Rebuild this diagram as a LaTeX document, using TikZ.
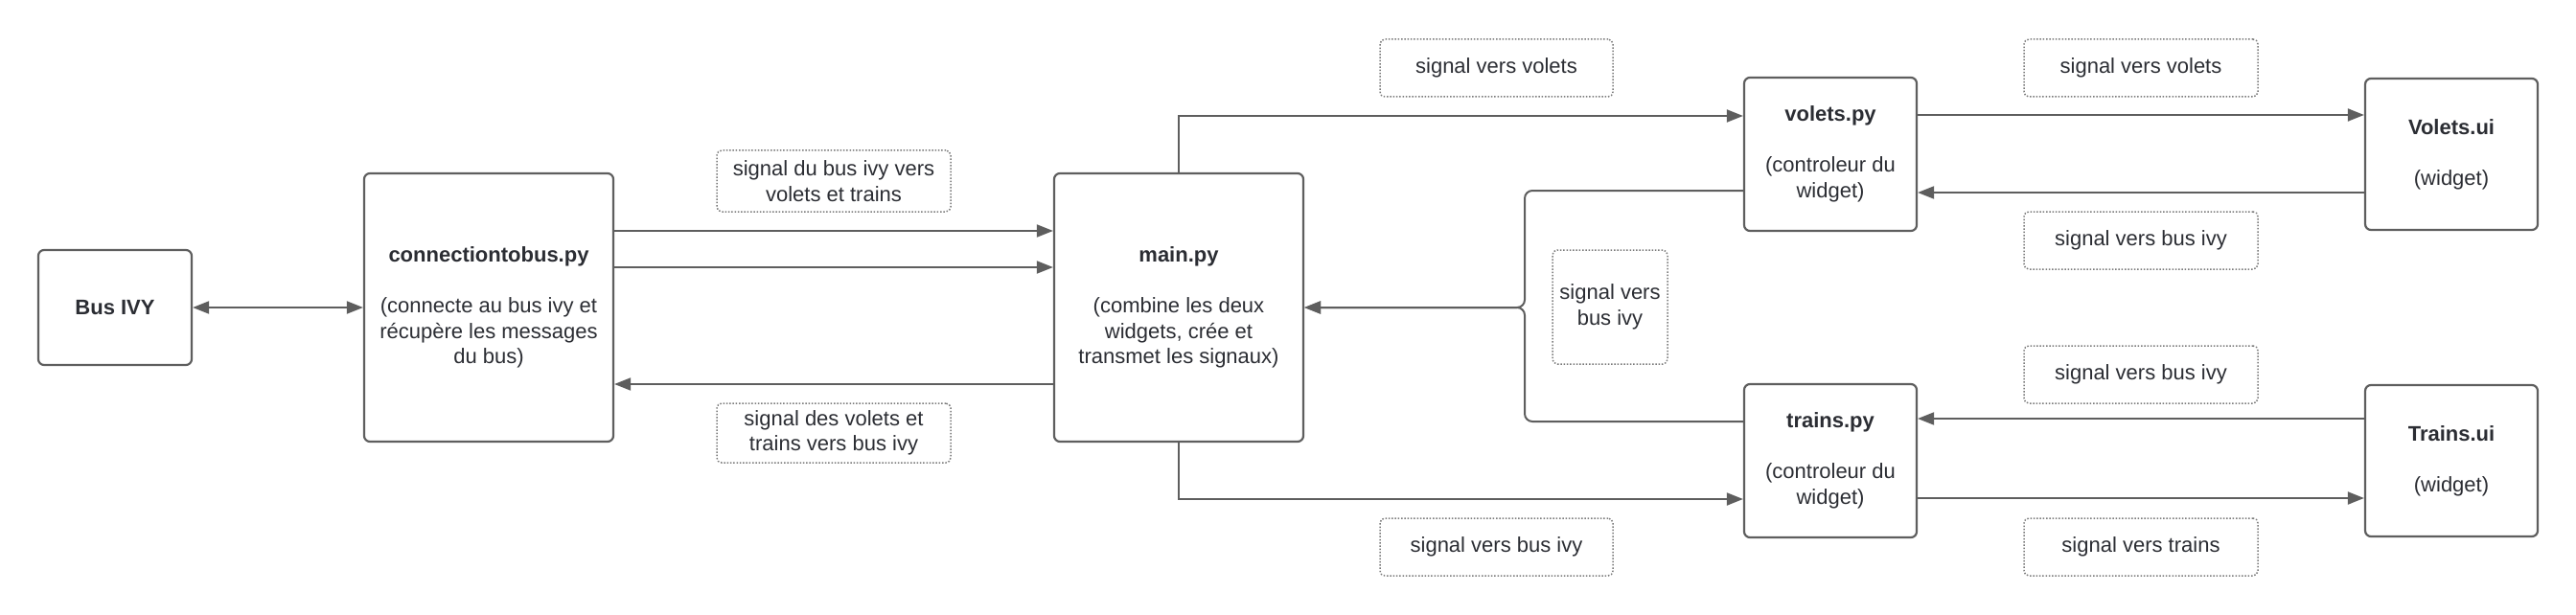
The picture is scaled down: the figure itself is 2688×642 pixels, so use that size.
\documentclass[tikz,border=0pt]{standalone}
\usepackage{fontspec}
\setmainfont{Liberation Sans}
\usetikzlibrary{arrows.meta}
\definecolor{txt}{HTML}{2B2D33}
\definecolor{ln}{HTML}{5E5E5E}
\definecolor{dot}{HTML}{7A7A7A}
\tikzset{
  box/.style={draw=ln, line width=1.1pt, rounded corners=3pt, inner sep=0pt, align=center, text=txt,
    font=\fontsize{11}{13.25}\selectfont},
  lbl/.style={draw=dot, line width=0.75pt, dash pattern=on 0.75pt off 0.9pt, rounded corners=2.5pt, inner sep=0pt,
    align=center, text=txt, font=\fontsize{11}{13.25}\selectfont},
  tip/.style={},
  conn/.style={draw=ln, line width=1pt, -{Triangle[length=8.5pt,width=6.5pt]}},
  bconn/.style={draw=ln, line width=1pt, {Triangle[length=8.5pt,width=6.5pt]}-{Triangle[length=8.5pt,width=6.5pt]}}
}
\begin{document}
\begin{tikzpicture}[x=0.5pt,y=-0.5pt]
\useasboundingbox (0,0) rectangle (2688,642);
% main boxes
\node[box, minimum width=80pt, minimum height=60pt] (bus) at (120,321) {\textbf{Bus IVY}};
\node[box, minimum width=130pt, minimum height=140pt] (ctb) at (510,321)
  {\textbf{connectiontobus.py}\\[13.25pt](connecte au bus ivy et\\récupère les messages\\du bus)};
\node[box, minimum width=130pt, minimum height=140pt] (mainpy) at (1230,321)
  {\textbf{main.py}\\[13.25pt](combine les deux\\widgets, crée et\\transmet les signaux)};
\node[box, minimum width=90pt, minimum height=80pt] (vpy) at (1910,161)
  {\textbf{volets.py}\\[13.25pt](controleur du\\widget)};
\node[box, minimum width=90pt, minimum height=80pt] (tpy) at (1910,481)
  {\textbf{trains.py}\\[13.25pt](controleur du\\widget)};
\node[box, minimum width=90pt, minimum height=79pt] (vui) at (2558,161)
  {\textbf{Volets.ui}\\[13.25pt](widget)};
\node[box, minimum width=90pt, minimum height=79pt] (tui) at (2558,481)
  {\textbf{Trains.ui}\\[13.25pt](widget)};
% labels
\node[lbl, minimum width=122pt, minimum height=32pt] (l1) at (870,189) {signal du bus ivy vers\\volets et trains};
\node[lbl, minimum width=122pt, minimum height=31pt] (l2) at (870,452) {signal des volets et\\trains vers bus ivy};
\node[lbl, minimum width=121.5pt, minimum height=30pt] (l3) at (1561.5,71) {signal vers volets};
\node[lbl, minimum width=121.5pt, minimum height=30pt] (l4) at (1561.5,571) {signal vers bus ivy};
\node[lbl, minimum width=60pt, minimum height=59.5pt] (l5) at (1680,320.5) {signal vers\\bus ivy};
\node[lbl, minimum width=122pt, minimum height=30pt] (l6) at (2234,71) {signal vers volets};
\node[lbl, minimum width=122pt, minimum height=30pt] (l7) at (2234,251) {signal vers bus ivy};
\node[lbl, minimum width=122pt, minimum height=30pt] (l8) at (2234,391) {signal vers bus ivy};
\node[lbl, minimum width=122pt, minimum height=30pt] (l9) at (2234,571) {signal vers trains};
% connectors
\draw[bconn] (bus.east) -- (ctb.west);
\draw[conn] ([yshift=40pt]ctb.east) -- ([yshift=40pt]mainpy.west);
\draw[conn] ([yshift=21pt]ctb.east) -- ([yshift=21pt]mainpy.west);
\draw[conn] ([yshift=-40pt]mainpy.west) -- ([yshift=-40pt]ctb.east);
\draw[conn] (mainpy.north) |- ([yshift=20pt]vpy.west);
\draw[conn] (mainpy.south) |- ([yshift=-20pt]tpy.west);
\coordinate (jx) at (1591,321);
\draw[conn, rounded corners=4pt] ([yshift=-19pt]vpy.west) -| (jx) -- (mainpy.east);
\draw[conn, rounded corners=4pt] ([yshift=20.5pt]tpy.west) -| (jx) -- (mainpy.east);
\draw[conn] ([yshift=20.5pt]vpy.east) -- ([yshift=20.5pt]vui.west);
\draw[conn] ([yshift=-20pt]vui.west) -- ([yshift=-20pt]vpy.east);
\draw[conn] ([yshift=22pt]tui.west) -- ([yshift=22pt]tpy.east);
\draw[conn] ([yshift=-19.5pt]tpy.east) -- ([yshift=-19.5pt]tui.west);
\end{tikzpicture}
\end{document}
